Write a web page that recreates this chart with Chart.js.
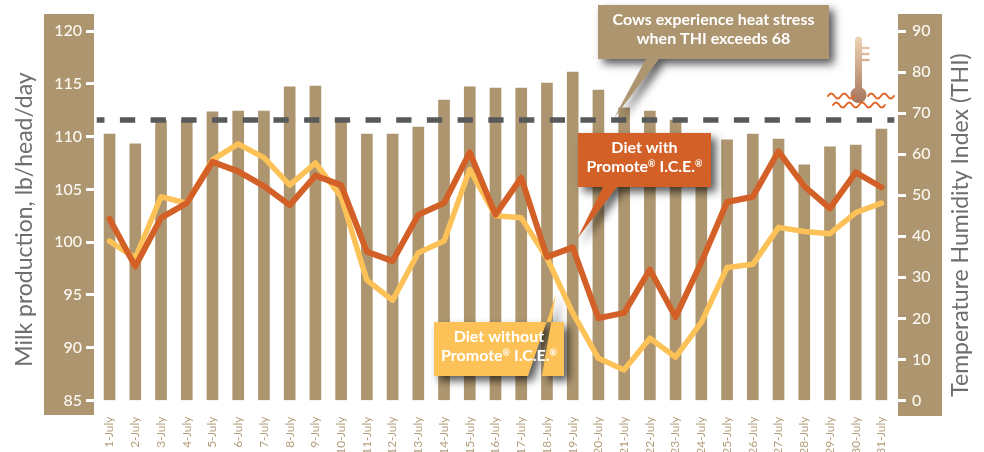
<!DOCTYPE html>
<html>
<head>
<meta charset="utf-8">
<title>Milk production and THI</title>
<script src="https://cdn.jsdelivr.net/npm/chart.js@4"></script>
<style>
  html, body { margin: 0; background: #fff; }
  canvas { display: block; }
</style>
</head>
<body>
<canvas id="myChart" width="984" height="452"></canvas>
<script>
const dias = ["1-July", "2-July", "3-July", "4-July", "5-July", "6-July", "7-July", "8-July", "9-July", "10-July", "11-July", "12-July", "13-July", "14-July", "15-July", "16-July", "17-July", "18-July", "19-July", "20-July", "21-July", "22-July", "23-July", "24-July", "25-July", "26-July", "27-July", "28-July", "29-July", "30-July", "31-July"];
const thi = [64.9, 62.5, 68.1, 68.3, 70.3, 70.5, 70.5, 76.4, 76.6, 67.8, 64.9, 64.9, 66.6, 73.2, 76.4, 76.1, 76.1, 77.3, 80, 75.6, 71.3, 70.5, 68.3, 64, 63.5, 64.9, 63.7, 57.4, 61.8, 62.2, 66.1];
const conPromote = [102.2, 97.7, 102.3, 103.7, 107.6, 106.7, 105.3, 103.5, 106.3, 105.4, 99.1, 98.2, 102.6, 103.7, 108.5, 102.6, 106.1, 98.6, 99.5, 92.8, 93.3, 97.4, 92.9, 98.1, 103.8, 104.3, 108.6, 105.3, 103.2, 106.6, 105.2];
const sinPromote = [100.1, 98.5, 104.3, 103.7, 107.8, 109.3, 108, 105.4, 107.5, 104.3, 96.4, 94.5, 99, 100.1, 106.9, 102.5, 102.3, 98.5, 93.3, 89, 87.9, 90.9, 89.1, 92.4, 97.6, 97.9, 101.4, 101, 100.8, 102.8, 103.7];
const limiteTHI = 68.3;

const TAN = "#ad966f";
const NARANJA = "#d36127";
const AMARILLO = "#fdc257";
const GRIS = "#6d6e71";
const FUENTE = "Lato";

const callout = (c, caja, cola, color, lineas) => {
  c.save();
  c.shadowColor = "rgba(0,0,0,0.65)";
  c.shadowBlur = 9;
  c.shadowOffsetX = 5;
  c.shadowOffsetY = 5;
  c.fillStyle = color;
  c.beginPath();
  c.moveTo(caja.x, caja.y);
  c.lineTo(caja.x + caja.w, caja.y);
  c.lineTo(caja.x + caja.w, caja.y + caja.h);
  c.lineTo(cola[1], caja.y + caja.h);
  c.lineTo(cola[2], cola[3]);
  c.lineTo(cola[0], caja.y + caja.h);
  c.lineTo(caja.x, caja.y + caja.h);
  c.closePath();
  c.fill();
  c.restore();

  c.fillStyle = "#fff";
  c.textBaseline = "alphabetic";
  c.textAlign = "left";
  lineas.forEach((linea, i) => {
    // trozos de texto: el ® va pequeño y arriba
    const trozos = linea.split(/(®)/).filter((t) => t);
    const normal = `700 16px ${FUENTE}`;
    const chico = `700 9px ${FUENTE}`;
    let ancho = 0;
    trozos.forEach((t) => {
      c.font = t === "®" ? chico : normal;
      ancho += c.measureText(t).width;
    });
    let x = caja.x + caja.w / 2 - ancho / 2;
    const y = caja.y + 20 + i * 19;
    trozos.forEach((t) => {
      c.font = t === "®" ? chico : normal;
      c.fillText(t, x, t === "®" ? y - 5 : y);
      x += c.measureText(t).width;
    });
  });
};

const termometro = (c) => {
  const grad = c.createLinearGradient(0, 37, 0, 103);
  grad.addColorStop(0, "#eed3b5");
  grad.addColorStop(1, "#a6755c");
  c.strokeStyle = grad;
  c.fillStyle = grad;
  c.lineCap = "round";
  c.lineWidth = 7;
  c.beginPath();
  c.moveTo(858.5, 40);
  c.lineTo(858.5, 92);
  c.stroke();
  c.lineWidth = 2.5;
  [48, 54, 60].forEach((y) => {
    c.beginPath();
    c.moveTo(860, y);
    c.lineTo(868.5, y);
    c.stroke();
  });
  c.beginPath();
  c.arc(858.5, 95, 8, 0, Math.PI * 2);
  c.fill();

  c.strokeStyle = "#e0672a";
  c.lineWidth = 2;
  const ola = (x0, x1, y) => {
    c.beginPath();
    c.moveTo(x0, y);
    for (let x = x0; x < x1; x += 13) {
      c.quadraticCurveTo(x + 3.25, y - 5, x + 6.5, y);
      c.quadraticCurveTo(x + 9.75, y + 5, x + 13, y);
    }
    c.stroke();
  };
  ola(828, 847, 96);
  ola(868, 887, 96);
  ola(833, 883, 105);
};

const adornos = {
  id: "adornos",
  beforeDraw(chart) {
    const c = chart.ctx;
    c.save();
    c.fillStyle = TAN;
    c.fillRect(44, 14, 50, 401);
    c.fillRect(898, 14, 44, 402);
    c.restore();
  },
  afterDatasetsDraw(chart) {
    const c = chart.ctx;
    c.save();

    // linea punteada del limite THI
    const y = chart.scales.yTHI.getPixelForValue(limiteTHI);
    c.strokeStyle = "#58595b";
    c.lineWidth = 5.5;
    c.setLineDash([15.3, 15.4]);
    c.lineDashOffset = 7.5;
    c.beginPath();
    c.moveTo(chart.chartArea.left, y);
    c.lineTo(chart.chartArea.right, y);
    c.stroke();
    c.setLineDash([]);

    termometro(c);

    callout(c, { x: 598, y: 5, w: 231, h: 54 }, [646, 659, 614, 118], TAN, ["Cows experience heat stress", "when THI exceeds 68"]);
    callout(c, { x: 578, y: 133, w: 133, h: 54 }, [603, 617, 577, 239], NARANJA, ["Diet with", "Promote® I.C.E.®"]);
    callout(c, { x: 434, y: 322, w: 130, h: 54 }, [528, 542, 556, 294], AMARILLO, ["Diet without", "Promote® I.C.E.®"]);

    // titulos de los ejes, los dos se leen de abajo hacia arriba
    c.fillStyle = GRIS;
    c.textAlign = "center";
    c.textBaseline = "middle";
    c.font = `400 23px ${FUENTE}`;
    [["Milk production, lb/head/day", 25, 219.5], ["Temperature Humidity Index (THI)", 961, 225]].forEach(([texto, tx, ty]) => {
      c.save();
      c.translate(tx, ty);
      c.rotate(-Math.PI / 2);
      c.fillText(texto, 0, 0);
      c.restore();
    });
    c.restore();
  },
};

new Chart(document.getElementById("myChart"), {
  type: "bar",
  data: {
    labels: dias,
    datasets: [
      { type: "line", label: "Diet with Promote I.C.E.", data: conPromote, yAxisID: "yLeche", order: 1, borderColor: NARANJA, borderWidth: 6, pointRadius: 0, tension: 0, borderCapStyle: "round", borderJoinStyle: "round" },
      { type: "line", label: "Diet without Promote I.C.E.", data: sinPromote, yAxisID: "yLeche", order: 2, borderColor: AMARILLO, borderWidth: 5.5, pointRadius: 0, tension: 0, borderCapStyle: "round", borderJoinStyle: "round" },
      { type: "bar", label: "THI", data: thi, yAxisID: "yTHI", order: 3, backgroundColor: TAN, barThickness: 11 },
    ],
  },
  plugins: [adornos],
  options: {
    responsive: false,
    animation: false,
    layout: { padding: { top: 31, left: 0, right: 0, bottom: 0 } },
    plugins: { legend: { display: false }, tooltip: { enabled: false } },
    scales: {
      x: {
        offset: true,
        afterFit: (s) => { s.height = 51.5; },
        grid: { display: false },
        border: { display: false },
        ticks: { color: "#b39e7b", font: { family: FUENTE, size: 12 }, minRotation: 90, maxRotation: 90, padding: 8, autoSkip: false },
      },
      yLeche: {
        position: "left",
        min: 85,
        max: 120,
        afterFit: (s) => { s.width = 96.7; },
        grid: { drawOnChartArea: false, tickColor: "#fff", tickWidth: 3, tickLength: 10.7 },
        border: { display: false },
        ticks: { stepSize: 5, color: "#fbf8f2", padding: 4, font: { family: FUENTE, size: 16, weight: 500 } },
      },
      yTHI: {
        position: "right",
        min: 0,
        max: 90,
        afterFit: (s) => { s.width = 89.7; },
        grid: { drawOnChartArea: false, tickColor: "#fff", tickWidth: 3, tickLength: 11.7 },
        border: { display: false },
        ticks: { stepSize: 10, color: "#fbf8f2", padding: 6, font: { family: FUENTE, size: 16, weight: 500 } },
      },
    },
  },
});
</script>
</body>
</html>
